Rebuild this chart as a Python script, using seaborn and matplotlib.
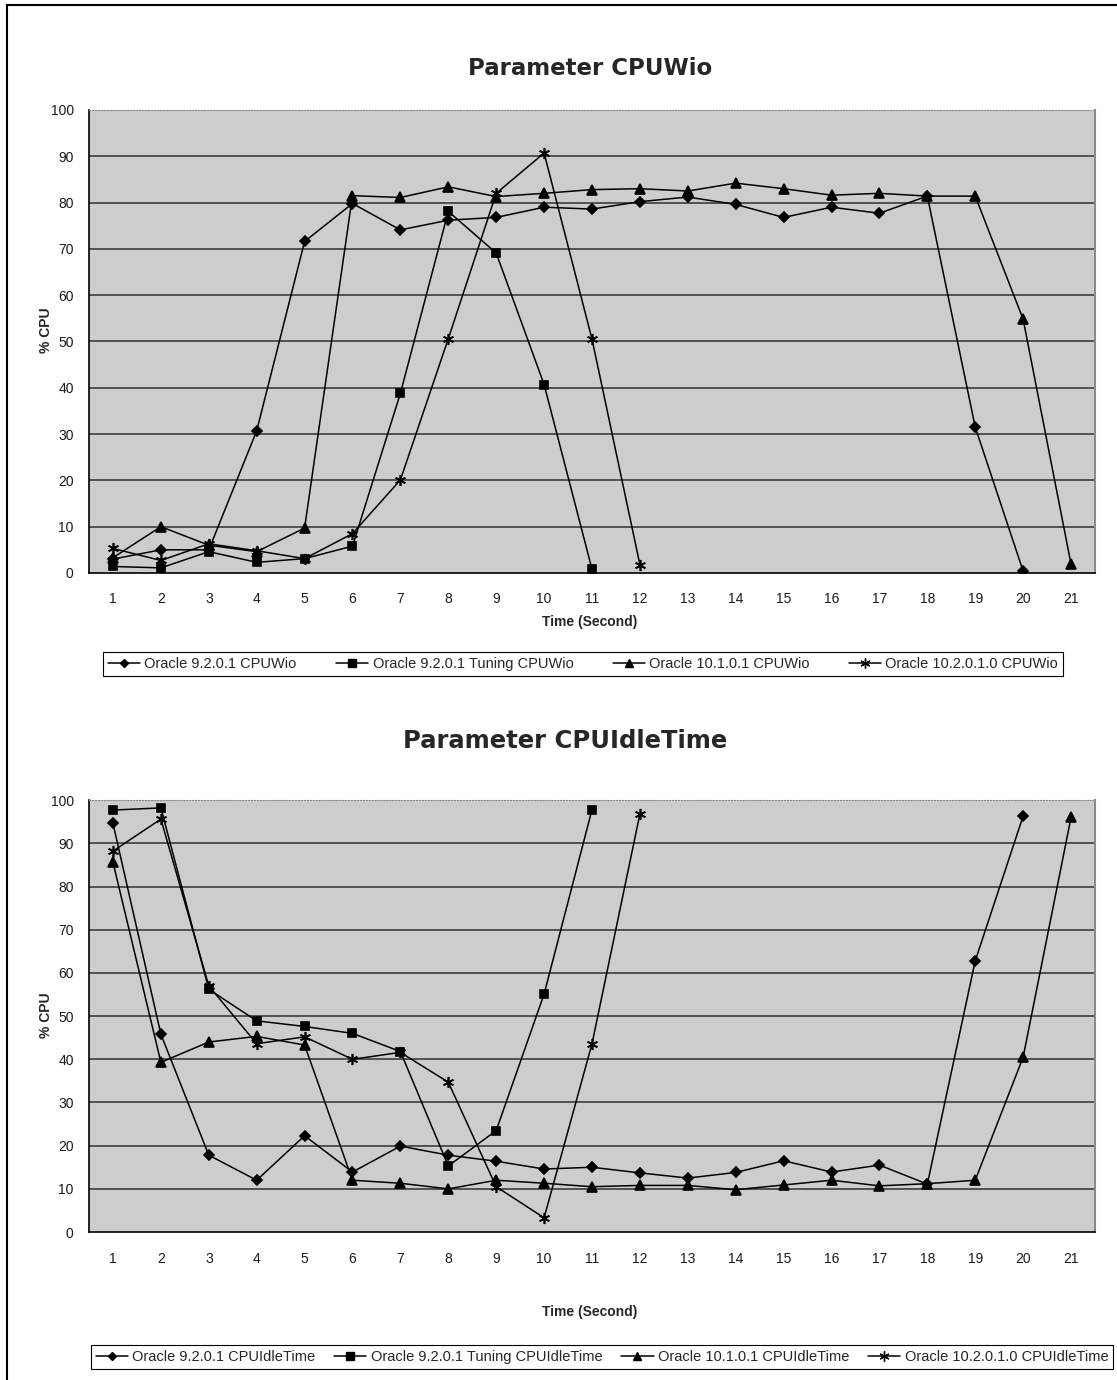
import numpy as np
import pandas as pd
import matplotlib
matplotlib.use("Agg")
import matplotlib.pyplot as plt
from matplotlib.lines import Line2D
import seaborn as sns

# %%
time_s = list(range(1, 22))
nan = np.nan

# Parameter CPUWio
wio_921 = [3, 5, 5, 30.7, 71.6, 79.8, 74.1, 76.2, 76.8, 79, 78.6, 80.2, 81.2, 79.6, 76.8,
           79, 77.7, 81.4, 31.5, 0.4, nan]
wio_921_tuning = [1.4, 1.1, 4.6, 2.3, 3.1, 5.8, 38.8, 78.1, 69.1, 40.7, 0.8, nan, nan, nan, nan,
                  nan, nan, nan, nan, nan, nan]
wio_1010 = [3.3, 10, 6, 4.6, 9.7, 81.5, 81.1, 83.4, 81.3, 82, 82.8, 83, 82.5, 84.2, 83,
            81.6, 82, 81.4, 81.4, 54.8, 1.9]
wio_1020 = [5.3, 2.7, 6.3, 4.8, 3.1, 8.5, 20.1, 50.6, 82, 90.7, 50.5, 1.8, nan, nan, nan,
            nan, nan, nan, nan, nan, nan]

# Parameter CPUIdleTime
idle_921 = [94.6, 45.8, 17.8, 12, 22.3, 13.9, 19.9, 17.8, 16.4, 14.6, 15, 13.7, 12.5, 13.8, 16.5,
            13.9, 15.5, 11.1, 62.8, 96.3, nan]
idle_921_tuning = [97.7, 98.2, 56.2, 48.9, 47.6, 46, 41.8, 15.3, 23.5, 55.1, 97.8, nan, nan, nan,
                   nan, nan, nan, nan, nan, nan, nan]
idle_1010 = [85.6, 39.3, 44, 45.3, 43.3, 12, 11.3, 10, 12, 11.3, 10.5, 10.8, 10.8, 9.8, 10.9,
             12, 10.7, 11.2, 12, 40.5, 96]
idle_1020 = [88.2, 95.6, 57, 43.6, 45.2, 40, 41.6, 34.7, 10.5, 3.3, 43.6, 96.8, nan, nan, nan,
             nan, nan, nan, nan, nan, nan]

wio_names = ["Oracle 9.2.0.1 CPUWio", "Oracle 9.2.0.1 Tuning CPUWio",
             "Oracle 10.1.0.1 CPUWio", "Oracle 10.2.0.1.0 CPUWio"]
idle_names = ["Oracle 9.2.0.1 CPUIdleTime", "Oracle 9.2.0.1 Tuning CPUIdleTime",
              "Oracle 10.1.0.1 CPUIdleTime", "Oracle 10.2.0.1.0 CPUIdleTime"]

# %%
def long_df(names, series):
    frames = []
    for name, vals in zip(names, series):
        frames.append(pd.DataFrame({"time": time_s, "cpu": vals, "series": name}))
    return pd.concat(frames, ignore_index=True).dropna()

wio_df = long_df(wio_names, [wio_921, wio_921_tuning, wio_1010, wio_1020])
idle_df = long_df(idle_names, [idle_921, idle_921_tuning, idle_1010, idle_1020])

markers = ["D", "s", "^", (6, 2, 0)]
msizes = [5, 6, 6.5, 8]

sns.set_style("white")
plt.rcParams["font.family"] = ["Liberation Sans", "DejaVu Sans"]

fig = plt.figure(figsize=(11.17, 13.8), dpi=100)
ax1 = fig.add_axes([0.0797, 0.5848, 0.9006, 0.3355])
ax2 = fig.add_axes([0.0797, 0.1072, 0.9006, 0.313])


def draw(ax, df, names):
    for name, m, ms in zip(names, markers, msizes):
        sns.lineplot(data=df[df["series"] == name], x="time", y="cpu",
                     color="black", marker=m, markersize=ms, markeredgewidth=1.2,
                     markeredgecolor="black", linewidth=1.1, ax=ax, legend=False)
    ax.set_facecolor("#cdcdcd")
    ax.set_xlim(0.5, 21.5)
    ax.set_ylim(0, 100)
    ax.set_yticks(range(0, 101, 10))
    ax.set_xticks(time_s)
    ax.set_xticks(np.arange(0.5, 22, 1), minor=True)
    ax.tick_params(axis="x", which="major", length=0, pad=14, labelsize=10)
    ax.tick_params(axis="x", which="minor", length=5, width=1, direction="out", color="black")
    ax.tick_params(axis="y", which="major", length=5, width=1, direction="out",
                   labelsize=10, pad=6, color="black")
    for yv in range(10, 100, 10):
        ax.axhline(yv, color="#3c3c3c", linewidth=1.2, zorder=0.5)
    ax.spines["left"].set_color("black")
    ax.spines["bottom"].set_color("black")
    ax.spines["left"].set_linewidth(1.2)
    ax.spines["bottom"].set_linewidth(1.2)
    ax.spines["top"].set_color("#8a8a8a")
    ax.spines["top"].set_linestyle(":")
    ax.spines["right"].set_color("#8a8a8a")
    ax.spines["right"].set_linewidth(1.5)
    ax.set_xlabel("")
    ax.set_ylabel("")
    for lab in ax.get_xticklabels() + ax.get_yticklabels():
        lab.set_color("#1a1a1a")


draw(ax1, wio_df, wio_names)
draw(ax2, idle_df, idle_names)

# titles and axis labels
fig.text(0.528, 0.9507, "Parameter CPUWio", ha="center", va="center",
         fontsize=16.5, fontweight="bold", family="DejaVu Sans")
fig.text(0.506, 0.463, "Parameter CPUIdleTime", ha="center", va="center",
         fontsize=17.5, fontweight="bold", family="DejaVu Sans")
fig.text(0.041, 0.761, "% CPU", rotation=90, ha="center", va="center",
         fontsize=10, fontweight="bold")
fig.text(0.041, 0.264, "% CPU", rotation=90, ha="center", va="center",
         fontsize=10, fontweight="bold")
fig.text(0.528, 0.549, "Time (Second)", ha="center", va="center",
         fontsize=10, fontweight="bold")
fig.text(0.528, 0.049, "Time (Second)", ha="center", va="center",
         fontsize=10, fontweight="bold")


def add_legend(names, center, fontsize, colsp):
    handles = [Line2D([], [], color="black", linewidth=1.1, marker=m, markersize=ms * 0.9,
                      markeredgecolor="black") for m, ms in zip(markers, msizes)]
    leg = fig.legend(handles, names, loc="center", bbox_to_anchor=center, ncol=4,
                     frameon=True, fancybox=False, edgecolor="black", framealpha=1,
                     handlelength=2.2, handletextpad=0.3,
                     columnspacing=colsp, borderpad=0.35,
                     prop={"family": ["Liberation Sans Narrow", "Liberation Sans"],
                           "size": fontsize})
    leg.get_frame().set_linewidth(0.8)


add_legend(wio_names, (0.522, 1 - 664 / 1380), 10.5, 2.7)
add_legend(idle_names, (0.539, 1 - 1357 / 1380), 10.5, 1.3)

# page frame
fig.add_artist(Line2D([7 / 1117, 7 / 1117], [0, 1 - 5 / 1380], color="black", linewidth=1.5))
fig.add_artist(Line2D([7 / 1117, 1], [1 - 5 / 1380, 1 - 5 / 1380], color="black", linewidth=1.5))

plt.savefig("out.png", dpi=100)
plt.close()
